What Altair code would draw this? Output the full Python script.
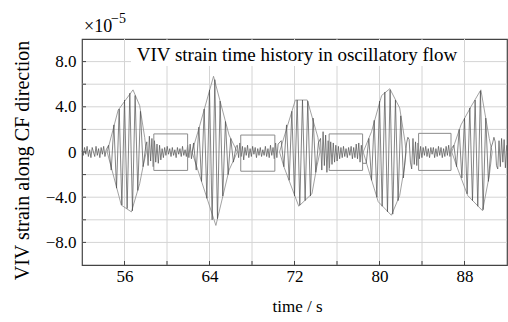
import altair as alt
import pandas as pd

# ---------------- data (strain in 1e-5) ----------------
STEP_QUIET = 0.12   # sampling step of the quiet stretches (s)
STEP_BURST = 0.25   # spacing of the alternating peaks inside a burst (s)

quiet_a = [0.1, -0.3, 0.4, -0.2, 0.5, -0.4, 0.2, -0.5, 0.4, 0.0,
           -0.4, 0.5, -0.3, 0.3, -0.5, 0.4, -0.2, 0.5, -0.4, 0.2]
burst_1 = [0.6, -1.6, 2.4, -3.2, 3.8, -4.7, 4.6, -5.0, 5.2, -5.2,
           5.0, -3.4, 3.6, -1.3, 0.5]
quiet_b = [0.9, -1.2, 1.4, -0.8, 1.2, -1.3, 1.0, -0.9, 0.7, -1.0,
           0.6, -0.7, 0.3, -0.5, 0.4, -0.3, 0.5, -0.2, 0.3, -0.4,
           0.4, -0.3, 0.2, -0.5, 0.4, -0.2, 0.3, -0.4, 0.5, -0.3,
           0.2, -0.4, 0.6, -0.5, 0.7, -0.6]
burst_2 = [0.8, -1.6, 2.2, -2.6, 3.8, -4.1, 5.5, -6.0, 6.4, -5.9,
           4.5, -3.9, 2.7, -2.0, 1.2, -0.9, 0.5]
quiet_c = [0.6, -0.5, 0.8, -0.4, 0.5, -0.7, 0.4, -0.3, 0.6, -0.5,
           0.3, -0.4, 0.5, -0.2, 0.4, -0.5, 0.3, -0.3, 0.4, -0.4,
           0.2, -0.3, 0.5, -0.4, 0.3, -0.5, 0.6, -0.3, 0.4, -0.6,
           0.8, -0.5, 0.7]
burst_3 = [1.0, -1.3, 2.4, -2.5, 3.6, -3.9, 4.6, -4.7, 4.6, -4.3,
           4.5, -3.9, 3.0, -1.8, 0.8]
quiet_d = [1.2, -1.6, 1.8, -1.2, 1.5, -1.8, 1.0, -1.4, 0.9, -1.1,
           0.8, -0.9, 0.6, -0.8, 0.5, -0.6, 0.4, -0.5, 0.5, -0.4,
           0.3, -0.5, 0.4, -0.3, 0.5, -0.6, 0.4, -0.5, 0.7, -0.6,
           0.8, -0.9, 0.6, -1.0]
burst_4 = [-1.0, 1.2, -2.5, 2.8, -4.0, 4.5, -4.8, 5.3, -5.3, 5.5,
           -5.5, 4.6, -4.3, 3.2, -2.3, 0.3]
quiet_e = [0.8, 1.3, 1.1, -0.9, -1.5, 1.2, -1.1, 0.9, -1.2, 0.8,
           -0.6, 0.5, -0.5, 0.4, -0.3, 0.5, -0.4, 0.3, -0.5, 0.4,
           -0.2, 0.4, -0.5, 0.3, -0.4, 0.5, -0.3, 0.4, -0.5, 0.3,
           -0.4, 0.5, -0.3, 0.6, -0.4, 0.3]
burst_5 = [0.6, -1.3, 2.0, -2.3, 3.0, -3.7, 3.9, -4.3, 4.6, -4.8,
           5.4, -5.1, 3.0, -2.6, 0.4]
quiet_f = [0.8, 1.3, 0.9, -1.2, -1.5, 1.0, -1.3, 1.2, -0.9, 1.1, -1.4, 0.6]

segment_starts = [52.0, 54.5, 58.1, 62.5, 66.62, 70.75, 74.45, 78.75, 82.55, 87.0, 90.65]
segment_values = [quiet_a, burst_1, quiet_b, burst_2, quiet_c, burst_3,
                  quiet_d, burst_4, quiet_e, burst_5, quiet_f]
segment_steps = [STEP_QUIET, STEP_BURST] * 5 + [STEP_QUIET]

# burst outlines (time, strain)
env_upper = {
    1: [(54.37, 0), (55.4, 3.7), (56.8, 5.5), (57.43, 4.1), (57.9, 1.3), (58.05, 0)],
    2: [(62.35, 0), (63.04, 2.2), (64.38, 6.7), (65.84, 1.5), (66.62, 0)],
    3: [(70.59, 0), (72.08, 4.6), (73.2, 4.6), (74.2, 1.3), (74.4, 0)],
    4: [(78.47, 0), (79.25, 1.8), (80.2, 5.0), (80.97, 5.6), (81.9, 3.9), (82.4, 0.9), (82.5, 0)],
    5: [(86.8, 0), (87.67, 2.4), (88.6, 4.0), (89.54, 5.5), (90.33, 1.2), (90.6, 0)],
}
env_lower = {
    1: [(54.37, 0), (55.7, -4.7), (56.65, -5.3), (57.43, -2.8), (57.74, -1.3), (58.05, 0)],
    2: [(62.35, 0), (64.6, -6.5), (65.84, -1.6), (66.62, 0)],
    3: [(70.59, 0), (71.0, -1.3), (72.4, -4.8), (73.64, -3.7), (74.1, -1.3), (74.4, 0)],
    4: [(78.47, 0), (78.94, -1.5), (79.88, -4.4), (81.12, -5.6), (81.9, -3.85), (82.37, -1.2), (82.5, 0)],
    5: [(86.8, 0), (87.36, -1.5), (88.3, -3.85), (89.7, -5.2), (90.33, -2.1), (90.6, 0)],
}

# boxes around the quiet stretches
box_t0 = [58.76, 66.94, 75.26, 83.68]
box_t1 = [61.94, 70.15, 78.41, 86.73]
box_top = [1.6, 1.5, 1.6, 1.65]
box_bottom = [-1.63, -1.7, -1.63, -1.63]

x_grid = [56, 60, 64, 68, 72, 76, 80, 84, 88]
y_grid = [-8, -6, -4, -2, 0, 2, 4, 6, 8]
x_labels = [56, 64, 72, 80, 88]
y_labels = [-8, -4, 0, 4, 8]

TITLE = "VIV strain time history in oscillatory flow"

# ---------------- tables ----------------
rows = []
k = 0
for t0, step, vals in zip(segment_starts, segment_steps, segment_values):
    for i, v in enumerate(vals):
        rows.append({"t": t0 + i * step, "v": v, "o": k})
        k += 1
sig = pd.DataFrame(rows)

env_rows = []
for b in env_upper:
    pts = env_upper[b] + list(reversed(env_lower[b]))
    for j, (t, v) in enumerate(pts):
        env_rows.append({"t": t, "v": v, "b": b, "o": j})
env = pd.DataFrame(env_rows)

boxes = pd.DataFrame({"t0": box_t0, "t1": box_t1, "top": box_top, "bot": box_bottom})

W, H = 425, 226
FONT = "Liberation Serif"
GRID = "#d4d4d4"

xs = alt.Scale(domain=[52, 92], nice=False, zero=False)
ys = alt.Scale(domain=[-10, 10], nice=False, zero=False)

x_axis = alt.Axis(values=x_labels, title="time / s", format="d",
                  tickSize=0, labelPadding=3, domain=False, grid=False,
                  labelOverlap=False,
                  labelFont=FONT, labelFontSize=17, labelColor="black",
                  titleFont=FONT, titleFontSize=17, titleFontWeight="normal",
                  titleColor="black", titleX=215, titleY=46,
                  titleBaseline="alphabetic", titleAlign="center")
y_axis = alt.Axis(values=y_labels, title="VIV strain along CF direction",
                  format=".1f",
                  labelExpr="datum.value == 0 ? '0' : datum.label",
                  tickSize=0, labelPadding=6, domain=False, grid=False,
                  labelOverlap=False,
                  labelFont=FONT, labelFontSize=17, labelColor="black",
                  titleFont=FONT, titleFontSize=20, titleFontWeight="normal",
                  titleColor="black", titleX=-54, titleY=121, titleAngle=270,
                  titleBaseline="alphabetic", titleAlign="center")

xgrid = alt.Chart(pd.DataFrame({"g": x_grid})).mark_rule(color=GRID, strokeWidth=1).encode(
    x=alt.X("g:Q", scale=xs, axis=x_axis))
ygrid = alt.Chart(pd.DataFrame({"g": y_grid})).mark_rule(color=GRID, strokeWidth=1).encode(
    y=alt.Y("g:Q", scale=ys, axis=y_axis))

title_bg = alt.Chart(pd.DataFrame({"a": [0]})).mark_rect(fill="white").encode(
    x=alt.value(49), x2=alt.value(381), y=alt.value(1), y2=alt.value(27))

outline = alt.Chart(env).mark_line(color="#8a8a8a", strokeWidth=0.8).encode(
    x=alt.X("t:Q", scale=xs),
    y=alt.Y("v:Q", scale=ys),
    detail="b:N",
    order="o:Q",
)

base_line = alt.Chart(sig).mark_line(color="#505050", strokeWidth=0.7).encode(
    x=alt.X("t:Q", scale=xs),
    y=alt.Y("v:Q", scale=ys),
    order="o:Q",
)

rects = alt.Chart(boxes).mark_rect(fill=None, stroke="#8c8c8c", strokeWidth=1).encode(
    x=alt.X("t0:Q", scale=xs), x2="t1:Q",
    y=alt.Y("top:Q", scale=ys), y2="bot:Q",
)

x_ticks = alt.Chart(pd.DataFrame({"t": x_grid})).mark_rule(color="#444", strokeWidth=1).encode(
    x=alt.X("t:Q", scale=xs), y=alt.value(H), y2=alt.value(H - 4))
y_ticks = alt.Chart(pd.DataFrame({"v": y_grid})).mark_rule(color="#444", strokeWidth=1).encode(
    y=alt.Y("v:Q", scale=ys), x=alt.value(0), x2=alt.value(4))

title_txt = alt.Chart(pd.DataFrame({"s": [TITLE]})).mark_text(
    font=FONT, fontSize=19, color="black", align="center", baseline="alphabetic").encode(
    text="s:N", x=alt.value(215), y=alt.value(22))

mult = alt.Chart(pd.DataFrame({"s": ["×10"]})).mark_text(
    font=FONT, fontSize=18, color="black", align="left", baseline="alphabetic").encode(
    text="s:N", x=alt.value(2), y=alt.value(-7))
expo = alt.Chart(pd.DataFrame({"s": ["−5"]})).mark_text(
    font=FONT, fontSize=14, color="black", align="left", baseline="alphabetic").encode(
    text="s:N", x=alt.value(29), y=alt.value(-16))

chart = alt.layer(
    xgrid, ygrid, title_bg, outline, base_line, rects, x_ticks, y_ticks,
    title_txt, mult, expo
).properties(
    width=W, height=H,
    autosize=alt.AutoSizeParams(type="none"),
    padding={"left": 82, "top": 39, "right": 1, "bottom": 57},
    background="white",
).configure_view(stroke="#444", strokeWidth=1.2)

chart.save("out.html", embed_options={"renderer": "svg", "actions": False})
